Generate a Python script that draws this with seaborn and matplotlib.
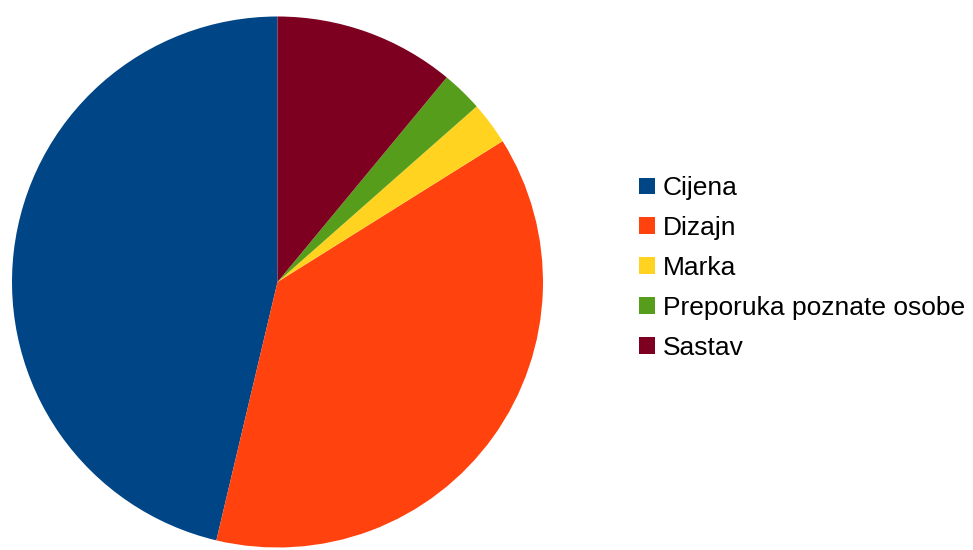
import matplotlib
matplotlib.use("Agg")
import matplotlib.pyplot as plt
import seaborn as sns

# share of answers per reason (in %)
categories = ["Cijena", "Dizajn", "Marka", "Preporuka poznate osobe", "Sastav"]
shares = [46.3, 37.6, 2.6, 2.5, 11.0]
colors = ["#004586", "#ff420e", "#ffd320", "#579d1c", "#7e0021"]

sns.set_theme(style="white")
plt.rcParams["font.family"] = ["Liberation Sans", "DejaVu Sans"]

fig = plt.figure(figsize=(9.73, 5.5), dpi=100)
ax = fig.add_axes([12 / 973, 2.5 / 550, 531 / 973, 531 / 550])

wedges, _ = ax.pie(
    shares,
    colors=sns.color_palette(colors),
    startangle=90,
    counterclock=True,
    radius=1.0,
    wedgeprops={"linewidth": 0},
)
ax.set_xlim(-1, 1)
ax.set_ylim(-1, 1)
ax.set_aspect("equal")

leg = fig.legend(
    wedges,
    categories,
    loc="center left",
    bbox_to_anchor=(639 / 973, 282 / 550),
    frameon=False,
    fontsize=19,
    handlelength=0.6,
    handleheight=0.6,
    handletextpad=0.3,
    labelspacing=0.6,
    borderaxespad=0,
    borderpad=0,
)
for t in leg.get_texts():
    t.set_color("black")

fig.savefig("out.png", dpi=100)
